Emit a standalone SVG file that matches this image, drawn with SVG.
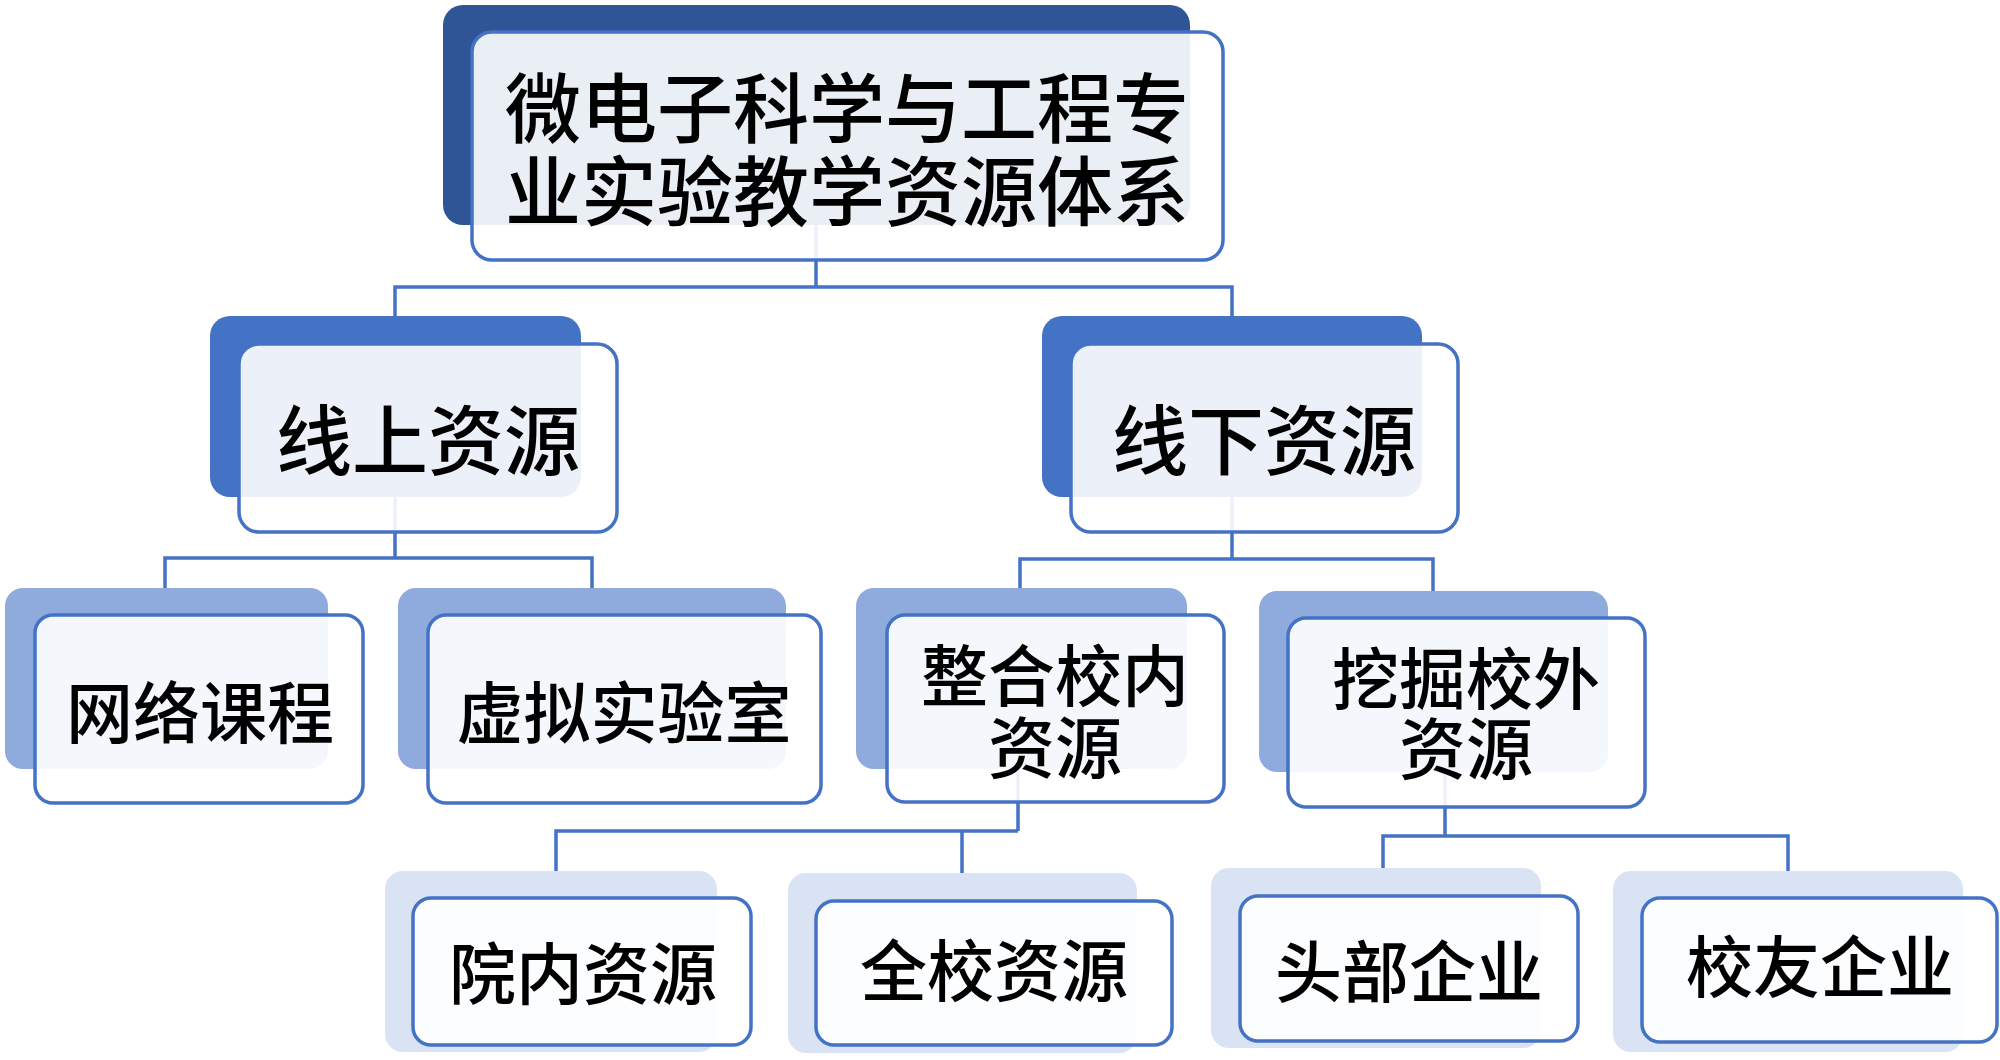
<svg xmlns="http://www.w3.org/2000/svg" width="2000" height="1060" viewBox="0 0 2000 1060">
<style>
.bk1{fill:#2f5597}
.bk2{fill:#4472c4}
.bk3{fill:#8faadc}
.bk4{fill:#dae3f3}
.fr{fill:#ffffff;fill-opacity:0.9;stroke:#4472c4;stroke-width:3.5}
.cn{fill:none;stroke:#4472c4;stroke-width:3.5}
text{font-family:"Noto Sans CJK SC","Noto Sans CJK TC",sans-serif;font-weight:500;fill:#000;text-anchor:middle;dominant-baseline:central}
.t1{font-size:76px}
.t2{font-size:76px}
.t3{font-size:67px}
</style>
<rect width="2000" height="1060" fill="#ffffff"/>
<g id="connectors">
<path class="cn" d="M816,200 V287 M395,316 V287 H1232 V316"/>
<path class="cn" d="M395,480 V558 M165,588 V558 H592 V588"/>
<path class="cn" d="M1232,480 V559 M1020,588 V559 H1433 V591"/>
<path class="cn" d="M1018,760 V831 M556,871 V831 H1018 M962,831 V873"/>
<path class="cn" d="M1445,760 V836 M1383,868 V836 H1788 V871"/>
</g>
<g id="root">
<rect class="bk1" x="443" y="5" width="747" height="220" rx="20"/>
<rect class="fr" x="472" y="32" width="751" height="228" rx="20"/>
<text class="t1" x="847" y="104">微电子科学与工程专</text>
<text class="t1" x="847" y="187">业实验教学资源体系</text>
</g>
<g id="online">
<rect class="bk2" x="210" y="316" width="371" height="181" rx="20"/>
<rect class="fr" x="239" y="344" width="378" height="188" rx="20"/>
<text class="t2" x="428" y="436">线上资源</text>
</g>
<g id="offline">
<rect class="bk2" x="1042" y="316" width="380" height="181" rx="20"/>
<rect class="fr" x="1071" y="344" width="387" height="188" rx="20"/>
<text class="t2" x="1264" y="436">线下资源</text>
</g>
<g id="wangluo">
<rect class="bk3" x="5" y="588" width="323" height="181" rx="18"/>
<rect class="fr" x="35" y="615" width="328" height="188" rx="18"/>
<text class="t3" x="200" y="708">网络课程</text>
</g>
<g id="xuni">
<rect class="bk3" x="398" y="588" width="388" height="181" rx="18"/>
<rect class="fr" x="428" y="615" width="393" height="188" rx="18"/>
<text class="t3" x="624" y="708">虚拟实验室</text>
</g>
<g id="zhenghe">
<rect class="bk3" x="856" y="588" width="331" height="181" rx="18"/>
<rect class="fr" x="887" y="615" width="337" height="187" rx="18"/>
<text class="t3" x="1055" y="671">整合校内</text>
<text class="t3" x="1055" y="743">资源</text>
</g>
<g id="wajue">
<rect class="bk3" x="1259" y="591" width="349" height="181" rx="18"/>
<rect class="fr" x="1288" y="618" width="357" height="189" rx="18"/>
<text class="t3" x="1466" y="674">挖掘校外</text>
<text class="t3" x="1466" y="744">资源</text>
</g>
<g id="yuannei">
<rect class="bk4" x="385" y="871" width="332" height="181" rx="18"/>
<rect class="fr" x="413" y="898" width="338" height="147" rx="18"/>
<text class="t3" x="583" y="969">院内资源</text>
</g>
<g id="quanxiao">
<rect class="bk4" x="788" y="873" width="349" height="180" rx="18"/>
<rect class="fr" x="816" y="901" width="356" height="144" rx="18"/>
<text class="t3" x="994" y="966">全校资源</text>
</g>
<g id="toubu">
<rect class="bk4" x="1211" y="868" width="330" height="180" rx="18"/>
<rect class="fr" x="1240" y="896" width="338" height="145" rx="18"/>
<text class="t3" x="1409" y="967">头部企业</text>
</g>
<g id="xiaoyou">
<rect class="bk4" x="1613" y="871" width="350" height="181" rx="18"/>
<rect class="fr" x="1642" y="898" width="355" height="144" rx="18"/>
<text class="t3" x="1820" y="962">校友企业</text>
</g>
</svg>
